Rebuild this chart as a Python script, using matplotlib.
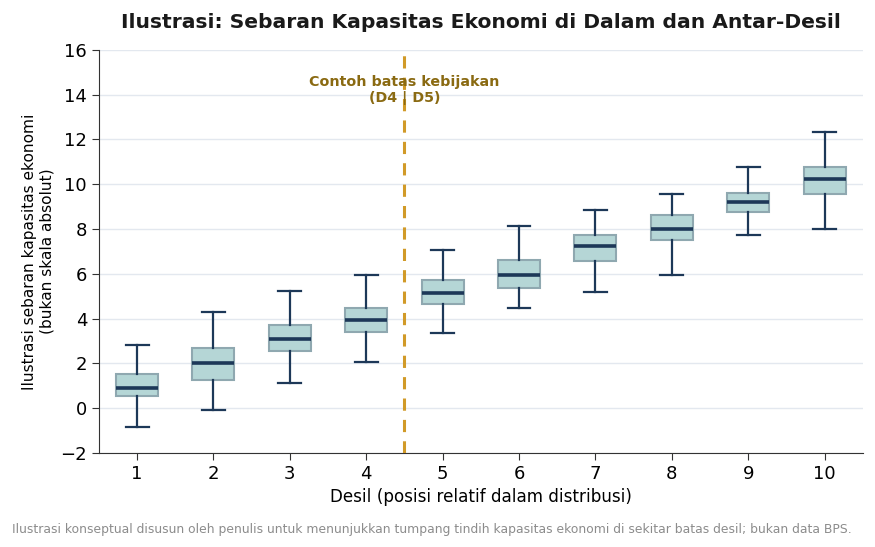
import matplotlib
matplotlib.use("Agg")
import matplotlib.pyplot as plt

deciles = [1, 2, 3, 4, 5, 6, 7, 8, 9, 10]
whisker_low = [-0.83, -0.08, 1.11, 2.04, 3.34, 4.47, 5.17, 5.96, 7.74, 8.00]
q1 = [0.56, 1.27, 2.55, 3.40, 4.63, 5.35, 6.55, 7.49, 8.75, 9.54]
median = [0.88, 2.03, 3.10, 3.92, 5.12, 5.96, 7.22, 7.98, 9.19, 10.23]
q3 = [1.51, 2.67, 3.70, 4.49, 5.70, 6.61, 7.74, 8.61, 9.62, 10.75]
whisker_high = [2.83, 4.28, 5.21, 5.96, 7.04, 8.12, 8.84, 9.57, 10.75, 12.33]
yticks = [-2, 0, 2, 4, 6, 8, 10, 12, 14, 16]

fig = plt.figure(figsize=(8.75, 5.47), dpi=100)
ax = fig.add_axes([0.113, 0.172, 0.873, 0.737])

stats = []
for i in range(len(deciles)):
    stats.append(dict(label=str(deciles[i]), whislo=whisker_low[i], q1=q1[i],
                      med=median[i], q3=q3[i], whishi=whisker_high[i], fliers=[]))

navy = "#1d3858"
ax.bxp(stats, positions=deciles, widths=0.55, patch_artist=True, showfliers=False,
       boxprops=dict(facecolor="#b5d6d6", edgecolor="#8fa8b0", linewidth=1.5),
       medianprops=dict(color=navy, linewidth=2.6),
       whiskerprops=dict(color=navy, linewidth=1.6),
       capprops=dict(color=navy, linewidth=1.6),
       capwidths=0.3, zorder=3)

ax.axvline(4.5, color="#d19a28", linestyle=(0, (4, 3)), linewidth=2.2, zorder=4)
ax.text(4.5, 14.2, "Contoh batas kebijakan\n(D4 | D5)", ha="center", va="center",
        color="#8a6a12", fontsize=10.3, fontweight="bold", linespacing=1.15, zorder=5)

ax.set_xlim(0.5, 10.5)
ax.set_ylim(-2, 16)
ax.set_yticks(yticks)
ax.set_xticks(deciles)
ax.set_xticklabels([str(d) for d in deciles])
ax.tick_params(labelsize=13, color="#333333", length=5)
ax.grid(axis="y", color="#e3e8ef", linewidth=1.0, zorder=0)
ax.set_axisbelow(True)
for s in ["top", "right"]:
    ax.spines[s].set_visible(False)
for s in ["left", "bottom"]:
    ax.spines[s].set_color("#333333")

ax.set_xlabel("Desil (posisi relatif dalam distribusi)", fontsize=12.1, labelpad=4)
ax.set_ylabel("Ilustrasi sebaran kapasitas ekonomi\n(bukan skala absolut)", fontsize=11.1,
              linespacing=1.25, labelpad=4)
ax.set_title("Ilustrasi: Sebaran Kapasitas Ekonomi di Dalam dan Antar-Desil",
             fontsize=14.6, fontweight="bold", color="#1a1a1a", pad=16)

fig.text(0.014, 0.032, "Ilustrasi konseptual disusun oleh penulis untuk menunjukkan tumpang tindih kapasitas ekonomi di sekitar batas desil; bukan data BPS.",
         fontsize=8.9, color="#8c8c8c", ha="left", va="center")

fig.savefig("out.png", dpi=100)
